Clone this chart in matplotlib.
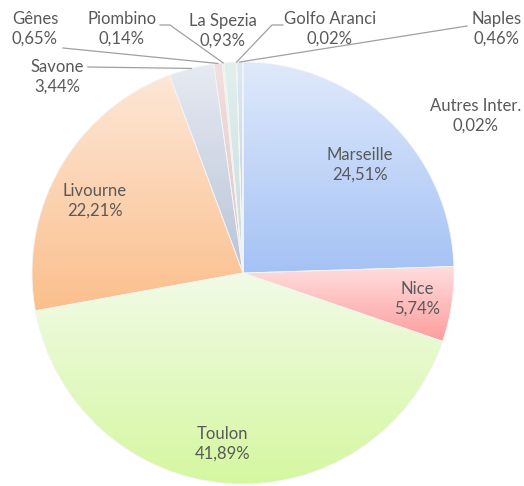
import numpy as np
import matplotlib.pyplot as plt
from matplotlib.colors import LinearSegmentedColormap

# Data
ports = ["Marseille", "Nice", "Toulon", "Livourne", "Savone", "Gênes",
         "Piombino", "La Spezia", "Golfo Aranci", "Naples", "Autres Inter."]
shares = [24.51, 5.74, 41.89, 22.21, 3.44, 0.65, 0.14, 0.93, 0.02, 0.46, 0.02]

# gradient colours (top -> bottom of each slice)
top_colors = ["#dfe9fb", "#ffdede", "#f1fbe7", "#fde7d7", "#e6eaf2", "#f2e0e0",
              "#eef3e4", "#e3efef", "#e6e1ef", "#dde8f5", "#f7e0e0"]
bottom_colors = ["#a5c2f5", "#fd9d9d", "#d5f7a0", "#fbbf8c", "#b9c4d8", "#e0c2c2",
                 "#d6e3bf", "#c4dbdb", "#c9bfdc", "#b9cde6", "#e8c0c0"]

# label positions in pixels (centre of the two-line label)
label_pos = [(360, 165), (417, 299), (223, 444), (95, 201), (57, 77), (35, 29),
             (122, 29), (223, 31), (330, 29), (497, 29), (476, 116)]

# leader lines: label-side points, end goes to the slice edge
leaders = {
    "Savone": [(88, 67)],
    "Gênes": [(63, 48)],
    "Piombino": [(160, 25), (170, 25)],
    "Golfo Aranci": [(283, 25), (272, 25)],
    "Naples": [(467, 26)],
}

W, H = 524, 486
CX, CY, R = 243, 273, 211


def px(x, y):
    return (x - CX) / R, (CY - y) / R


fig = plt.figure(figsize=(W / 100, H / 100), dpi=100)
ax = fig.add_axes([0, 0, 1, 1])

wedges, _ = ax.pie(shares, startangle=90, counterclock=False, radius=1,
                   colors=top_colors,
                   wedgeprops=dict(edgecolor="#f4f4f4", linewidth=0.6))

grad = np.linspace(0, 1, 256).reshape(-1, 1)
for w, c0, c1 in zip(wedges, top_colors, bottom_colors):
    cmap = LinearSegmentedColormap.from_list("g", [c0, c1])
    bb = w.get_path().get_extents()
    im = ax.imshow(grad, cmap=cmap, extent=[bb.x0, bb.x1, bb.y0, bb.y1],
                   origin="upper", aspect="auto", zorder=1)
    im.set_clip_path(w)
    w.set_facecolor("none")
    w.set_zorder(3)

font = dict(family=["Lato", "DejaVu Sans"], fontsize=12, color="#595959")
for name, val, pos in zip(ports, shares, label_pos):
    x, y = px(*pos)
    txt = name + "\n" + f"{val:.2f}".replace(".", ",") + "%"
    ax.text(x, y, txt, ha="center", va="center", linespacing=1.3,
            zorder=5, **font)

for w, name in zip(wedges, ports):
    if name not in leaders:
        continue
    mid = np.deg2rad((w.theta1 + w.theta2) / 2)
    pts = [px(*p) for p in leaders[name]] + [(np.cos(mid), np.sin(mid))]
    xs, ys = zip(*pts)
    ax.plot(xs, ys, color="#a0a0a0", lw=0.9, zorder=4)

ax.set_xlim(px(0, 0)[0], px(W, 0)[0])
ax.set_ylim(px(0, H)[1], px(0, 0)[1])
ax.set_aspect("equal")
ax.axis("off")

fig.savefig("out.png", dpi=100)
